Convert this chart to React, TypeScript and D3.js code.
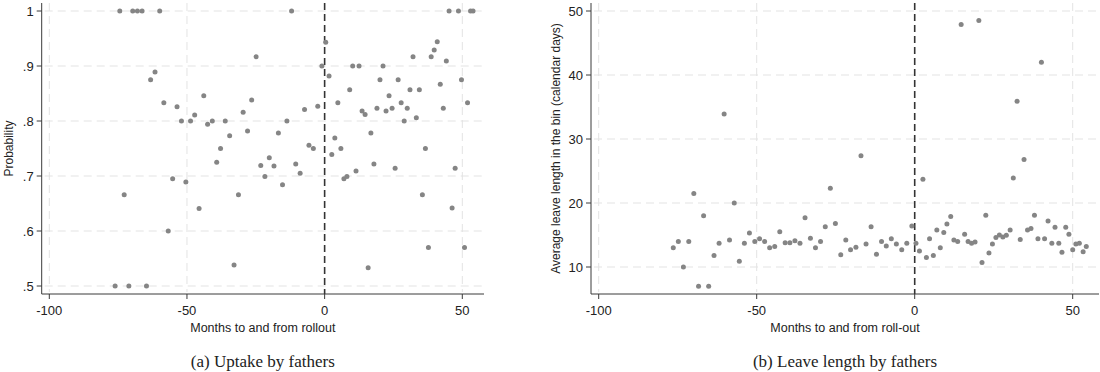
import * as d3 from "d3";
import React from "react";

// (a) uptake by fathers: bin position (months) and probability
const uptakeMonths = [
  -76.1, -74.4, -72.8, -71.1, -69.7, -68.0, -66.3, -64.7, -63.2, -61.6, -59.9, -58.4, -56.8,
  -55.2, -53.6, -52.0, -50.4, -48.7, -47.2, -45.6, -43.9, -42.5, -40.8, -39.2, -37.8, -36.1,
  -34.5, -32.9, -31.3, -29.6, -28.0, -26.5, -24.9, -23.2, -21.7, -20.1, -18.4, -16.8, -15.3,
  -13.7, -12.0, -10.5, -8.9, -7.3, -5.7, -4.1, -2.5, -1.0,
  0.4, 1.6, 2.6, 3.7, 4.8, 5.9, 7.0, 8.1, 9.1, 10.2, 11.4, 12.5, 13.6, 14.7, 15.8, 16.8, 17.9,
  19.0, 20.1, 21.2, 22.3, 23.4, 24.5, 25.6, 26.7, 27.8, 28.9, 30.0, 31.0, 32.1, 33.3, 34.4,
  35.5, 36.6, 37.7, 38.7, 39.8, 40.9, 42.0, 43.1, 44.2, 45.2, 46.3, 47.4, 48.6, 49.7, 50.8,
  51.9, 53.0, 53.9,
];
const uptakeProb = [
  0.5, 1, 0.666, 0.5, 1, 1, 1, 0.5, 0.875, 0.889, 1, 0.833, 0.6,
  0.695, 0.826, 0.8, 0.689, 0.8, 0.811, 0.641, 0.846, 0.794, 0.8, 0.725, 0.75, 0.8,
  0.773, 0.538, 0.666, 0.816, 0.782, 0.838, 0.917, 0.719, 0.699, 0.733, 0.718, 0.778, 0.684,
  0.8, 1, 0.722, 0.705, 0.821, 0.756, 0.75, 0.827, 0.9,
  0.943, 0.882, 0.739, 0.769, 0.833, 0.75, 0.695, 0.699, 0.857, 0.9, 0.709, 0.9, 0.818, 0.812,
  0.533, 0.778, 0.722, 0.823, 0.875, 0.9, 0.818, 0.846, 0.823, 0.714, 0.875, 0.833, 0.8,
  0.823, 0.857, 0.917, 0.806, 0.857, 0.666, 0.75, 0.57, 0.917, 0.929, 0.944, 0.867, 0.823,
  0.909, 1, 0.642, 0.714, 1, 0.875, 0.57, 0.833, 1, 1,
];

// (b) leave length by fathers: bin position (months) and average days
const leaveMonths = [
  -76.4, -74.8, -73.2, -71.5, -69.9, -68.4, -66.8, -65.2, -63.5, -61.9, -60.3, -58.6, -57.1,
  -55.5, -53.9, -52.3, -50.6, -49.1, -47.5, -45.9, -44.3, -42.7, -41.0, -39.5, -37.9, -36.3,
  -34.7, -33.0, -31.4, -29.8, -28.3, -26.7, -25.1, -23.4, -21.8, -20.3, -18.6, -17.0, -15.4,
  -13.8, -12.1, -10.5, -9.0, -7.4, -5.8, -4.1, -2.5, -0.9,
  0.4, 1.5, 2.6, 3.7, 4.7, 5.9, 7.0, 8.1, 9.2, 10.2, 11.4, 12.4, 13.6, 14.7, 15.8, 16.9, 18.0,
  19.1, 20.3, 21.3, 22.5, 23.5, 24.6, 25.7, 26.8, 27.9, 29.0, 30.2, 31.2, 32.4, 33.4, 34.6,
  35.7, 36.8, 37.9, 39.0, 40.1, 41.1, 42.2, 43.4, 44.4, 45.6, 46.6, 47.8, 48.8, 50.0, 51.0,
  52.1, 53.3, 54.3,
];
const leaveDays = [
  13.0, 14.0, 10.0, 14.0, 21.5, 7.0, 18.0, 7.0, 11.8, 13.7, 33.9, 14.2, 20.0,
  10.9, 13.7, 15.3, 14.0, 14.4, 14.0, 13.0, 13.2, 15.5, 13.8, 13.8, 14.1, 13.7,
  17.7, 14.5, 13.0, 14.0, 16.3, 22.3, 16.8, 11.9, 14.2, 12.7, 13.1, 27.4, 13.6,
  16.3, 12.0, 14.0, 13.3, 14.4, 13.6, 12.7, 13.7, 16.4,
  13.7, 12.5, 23.7, 11.5, 14.4, 11.8, 15.8, 13.0, 15.4, 16.7, 17.9, 14.2, 14.0, 47.9, 15.1,
  14.0, 13.7, 13.9, 48.5, 10.7, 18.1, 12.2, 13.6, 14.6, 15.0, 14.7, 14.95, 15.8, 23.9, 35.9,
  14.3, 26.8, 15.8, 16.0, 18.1, 14.4, 42.0, 14.4, 17.2, 13.7, 16.2, 13.7, 12.3, 16.2, 15.1,
  12.7, 13.6, 13.7, 12.4, 13.2,
];

const xTicks = [-100, -50, 0, 50];
const uptakeTicks = [0.5, 0.6, 0.7, 0.8, 0.9, 1];
const uptakeTickLabels = [".5", ".6", ".7", ".8", ".9", "1"];
const leaveTicks = [10, 20, 30, 40, 50];
const leaveTickLabels = ["10", "20", "30", "40", "50"];

const sans = "Liberation Sans, Arial, sans-serif";
const serif = "Liberation Serif, Times New Roman, serif";
const dotColor = "#858585";
const gridColor = "#e3e3e3";
const axisColor = "#3a3a3a";

type PanelProps = {
  xs: number[];
  ys: number[];
  yTicks: number[];
  yTickLabels: string[];
  yDomain: [number, number];
  yRange: [number, number];
  xRange: [number, number];
  plotLeft: number;
  plotRight: number;
  yTitle: string;
  yTitleX: number;
  xTitle: string;
  caption: string;
};

const top = 3;
const bottom = 294;

const Panel = (p: PanelProps) => {
  const x = d3.scaleLinear().domain([-100, 50]).range(p.xRange);
  const y = d3.scaleLinear().domain(p.yDomain).range(p.yRange);
  const cx = (p.plotLeft + p.plotRight) / 2;
  const pts = p.xs.map((m, i) => [m, p.ys[i]]);

  return (
    <g>
      {/* grid */}
      {p.yTicks.map((t) => (
        <line key={"gy" + t} x1={p.plotLeft + 3} x2={p.plotRight} y1={y(t)} y2={y(t)}
          stroke={gridColor} strokeWidth={1} strokeDasharray="8 5" />
      ))}
      {xTicks.filter((t) => t !== 0).map((t) => (
        <line key={"gx" + t} x1={x(t)} x2={x(t)} y1={top} y2={bottom - 2}
          stroke={gridColor} strokeWidth={1} strokeDasharray="8 5" />
      ))}
      {/* roll-out line */}
      <line x1={x(0)} x2={x(0)} y1={top} y2={bottom} stroke="#333" strokeWidth={1.6} strokeDasharray="7 4" />

      {pts.map(([m, v], i) => (
        <circle key={i} cx={x(m)} cy={y(v)} r={2.5} fill={dotColor} />
      ))}

      {/* axes */}
      <line x1={p.plotLeft} x2={p.plotLeft} y1={top} y2={bottom} stroke={axisColor} strokeWidth={1} />
      <line x1={p.plotLeft} x2={p.plotRight} y1={bottom} y2={bottom} stroke={axisColor} strokeWidth={1} />
      {p.yTicks.map((t, i) => (
        <g key={"yt" + t}>
          <line x1={p.plotLeft - 5} x2={p.plotLeft} y1={y(t)} y2={y(t)} stroke={axisColor} />
          <text x={p.plotLeft - 8} y={y(t)} dy="0.35em" textAnchor="end"
            fontFamily={sans} fontSize={13} fill="#222">{p.yTickLabels[i]}</text>
        </g>
      ))}
      {xTicks.map((t) => (
        <g key={"xt" + t}>
          <line x1={x(t)} x2={x(t)} y1={bottom} y2={bottom + 5} stroke={axisColor} />
          <text x={x(t)} y={315} textAnchor="middle" fontFamily={sans} fontSize={13} fill="#222">
            {String(t)}
          </text>
        </g>
      ))}
      <text transform={`translate(${p.yTitleX},${(top + bottom) / 2}) rotate(-90)`} textAnchor="middle"
        fontFamily={sans} fontSize={12} fill="#222">{p.yTitle}</text>
      <text x={cx} y={332} textAnchor="middle" fontFamily={sans} fontSize={12.5} fill="#222">{p.xTitle}</text>
      <text x={cx} y={367} textAnchor="middle" fontFamily={serif} fontSize={17} fill="#222">{p.caption}</text>
    </g>
  );
};

export default function App() {
  return (
    <svg width={1100} height={372} style={{ position: "absolute", left: 0, top: 0, background: "#fff" }}>
      <rect width={1100} height={372} fill="#fff" />
      <Panel xs={uptakeMonths} ys={uptakeProb} yTicks={uptakeTicks} yTickLabels={uptakeTickLabels}
        yDomain={[0.5, 1]} yRange={[286, 11]} xRange={[49.3, 462.3]} plotLeft={41.7} plotRight={484}
        yTitle="Probability" yTitleX={13} xTitle="Months to and from rollout"
        caption="(a) Uptake by fathers" />
      <Panel xs={leaveMonths} ys={leaveDays} yTicks={leaveTicks} yTickLabels={leaveTickLabels}
        yDomain={[10, 50]} yRange={[267, 11]} xRange={[598.7, 1072.7]} plotLeft={591} plotRight={1099}
        yTitle="Average leave length in the bin (calendar days)" yTitleX={560}
        xTitle="Months to and from roll-out" caption="(b) Leave length by fathers" />
    </svg>
  );
}
